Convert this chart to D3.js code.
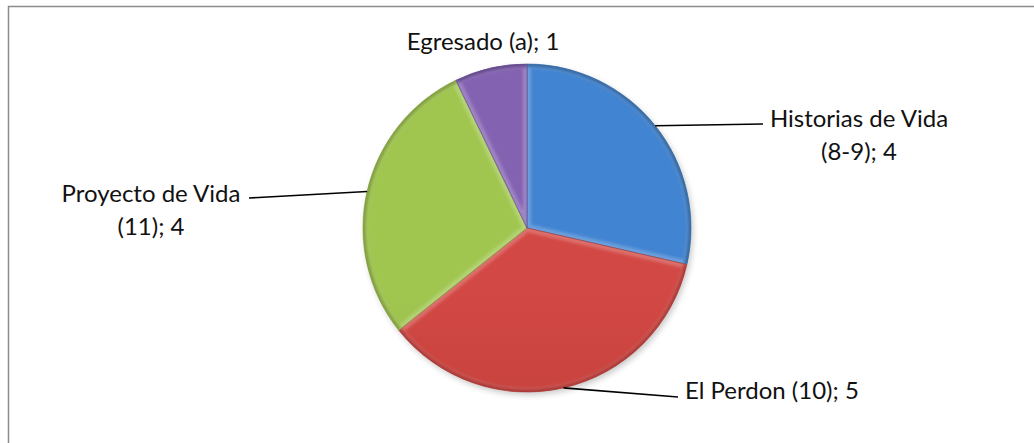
<!DOCTYPE html>
<html lang="es">
<head>
<meta charset="UTF-8">
<title>Pie chart</title>
<script src="https://d3js.org/d3.v7.min.js"></script>
<style>
  body { margin: 0; background: #fff; }
  text { font-family: Lato, "Open Sans", sans-serif; font-size: 24px; fill: #111; }
</style>
</head>
<body>
<script>
const labels = ["Historias de Vida (8-9)", "El Perdon (10)", "Proyecto de Vida (11)", "Egresado (a)"];
const values = [4, 5, 4, 1];
const labelLines = [["Historias de Vida", "(8-9); 4"], ["El Perdon (10); 5"], ["Proyecto de Vida", "(11); 4"], ["Egresado (a); 1"]];
const colors = [["#4184d2", "#3a78c2", "#30659f"], ["#d24844", "#c4403c", "#a83532"], ["#a0c650", "#95b846", "#7c9a38"], ["#8462b2", "#7656a2", "#5f4488"]];

const width = 1034, height = 443;
const cx = 527, cy = 228, r = 164;

const svg = d3.select("body").append("svg")
  .attr("width", width).attr("height", height);

// frame
svg.append("rect").attr("x", 8.5).attr("y", 6.5).attr("width", width + 10).attr("height", height + 10)
  .attr("fill", "none").attr("stroke", "#8c8c8c").attr("stroke-width", 1.5);

const defs = svg.append("defs");
colors.forEach((c, i) => {
  const g = defs.append("linearGradient").attr("id", "grad" + i)
    .attr("gradientUnits", "userSpaceOnUse")
    .attr("x1", 0).attr("y1", cy - r).attr("x2", 0).attr("y2", cy + r);
  g.append("stop").attr("offset", "0%").attr("stop-color", c[0]);
  g.append("stop").attr("offset", "45%").attr("stop-color", c[1]);
  g.append("stop").attr("offset", "100%").attr("stop-color", c[2]);
});
const blur = defs.append("filter").attr("id", "soft").attr("x", "-10%").attr("y", "-10%").attr("width", "120%").attr("height", "120%");
blur.append("feGaussianBlur").attr("stdDeviation", 1.5);
const shadow = defs.append("filter").attr("id", "shadow").attr("x", "-10%").attr("y", "-10%").attr("width", "130%").attr("height", "130%");
shadow.append("feGaussianBlur").attr("stdDeviation", 3);

const pie = d3.pie().sort(null).value(d => d);
const arcs = pie(values);
const arc = d3.arc().innerRadius(0).outerRadius(r);

const g = svg.append("g").attr("transform", `translate(${cx},${cy})`);

// drop shadow
g.append("circle").attr("cx", 2).attr("cy", 3).attr("r", r)
  .attr("fill", "#000").attr("opacity", 0.22).attr("filter", "url(#shadow)");

arcs.forEach((a, i) => {
  defs.append("clipPath").attr("id", "clip" + i)
    .append("path").attr("d", arc(a)).attr("transform", `translate(${cx},${cy})`);
});

const slices = g.selectAll("g.slice").data(arcs).join("g").attr("class", "slice");
slices.append("path").attr("d", arc).attr("fill", (d, i) => `url(#grad${i})`);
// bevel highlight and rim
slices.append("g").attr("clip-path", (d, i) => `url(#clip${i})`)
  .attr("transform", `translate(${-cx},${-cy})`)
  .each(function(d, i) {
    const s = d3.select(this);
    s.append("path").attr("d", arc(d)).attr("transform", `translate(${cx},${cy})`)
      .attr("fill", "none").attr("stroke", "#fff").attr("stroke-opacity", 0.22)
      .attr("stroke-width", 8).attr("filter", "url(#soft)");
    s.append("path").attr("d", d3.arc().innerRadius(r - 3).outerRadius(r + 2)(d))
      .attr("transform", `translate(${cx},${cy})`)
      .attr("fill", colors[i][2]).attr("opacity", 0.9).attr("filter", "url(#soft)");
  });
slices.append("path").attr("d", arc).attr("fill", "none")
  .attr("stroke", (d, i) => colors[i][2]).attr("stroke-width", 0.6);

// labels with leader lines from the slice's mid angle on the rim
const lineLayout = [
  { anchor: [763, 124], text: [859, 117] },
  { anchor: [678, 397], text: [685, 389], start: true },
  { anchor: [249, 198], text: [151, 192] },
  { anchor: null, text: [483, 40] }
];

arcs.forEach((a, i) => {
  const L = lineLayout[i];
  if (L.anchor) {
    const t = (a.startAngle + a.endAngle) / 2;
    const px = cx + r * Math.sin(t), py = cy - r * Math.cos(t);
    svg.append("line")
      .attr("x1", px).attr("y1", py).attr("x2", L.anchor[0]).attr("y2", L.anchor[1])
      .attr("stroke", "#000").attr("stroke-width", 1.6);
  }
  const txt = svg.append("text")
    .attr("text-anchor", L.start ? "start" : "middle")
    .attr("dominant-baseline", "central");
  labelLines[i].forEach((line, j) => {
    txt.append("tspan").attr("x", L.text[0]).attr("y", L.text[1] + j * 33).text(line);
  });
});
</script>
</body>
</html>
